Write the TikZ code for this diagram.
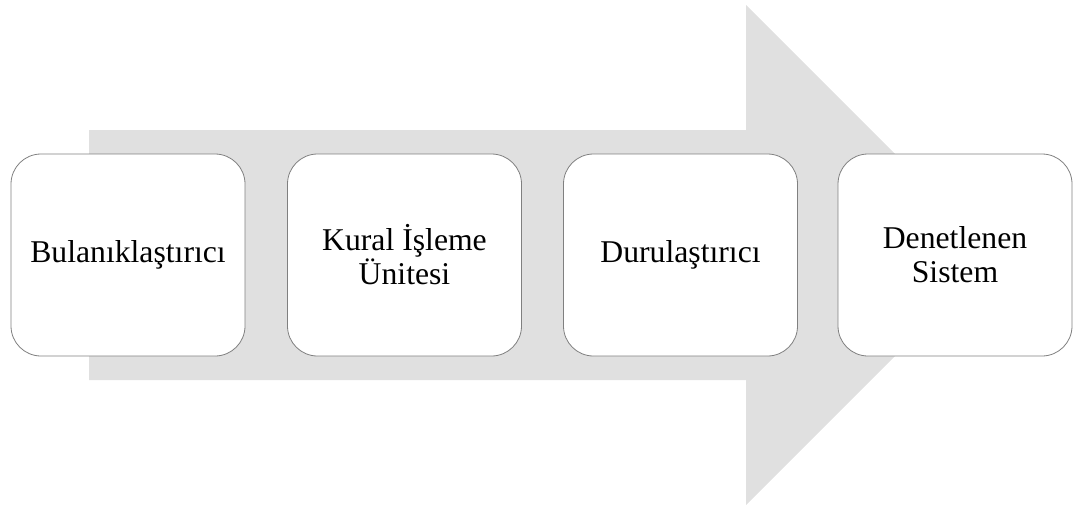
\documentclass[tikz,border=0pt]{standalone}
\usepackage{fontspec}
\setmainfont{Liberation Serif}
\begin{document}
\begin{tikzpicture}[x=1pt,y=-1pt,
  stagebox/.style={draw=black!50, line width=0.8pt, fill=white, rounded corners=30pt,
    minimum width=234pt, minimum height=202pt, align=center,
    font=\fontsize{31.7}{34}\selectfont, inner sep=0pt}]
\useasboundingbox (0,0) rectangle (1073,504);
% flow arrow in the background
\fill[black!12] (89,130) -- (746,130) -- (746,5) -- (996,255) -- (746,505)
  -- (746,380) -- (89,380) -- cycle;
% stages
\node[stagebox] (s1) at (128,255) {Bulanıklaştırıcı};
\node[stagebox] (s2) at (404.5,255) {Kural İşleme\\Ünitesi};
\node[stagebox] (s3) at (680.5,255) {Durulaştırıcı};
\node[stagebox] (s4) at (955,255) {Denetlenen\\Sistem};
\end{tikzpicture}
\end{document}
